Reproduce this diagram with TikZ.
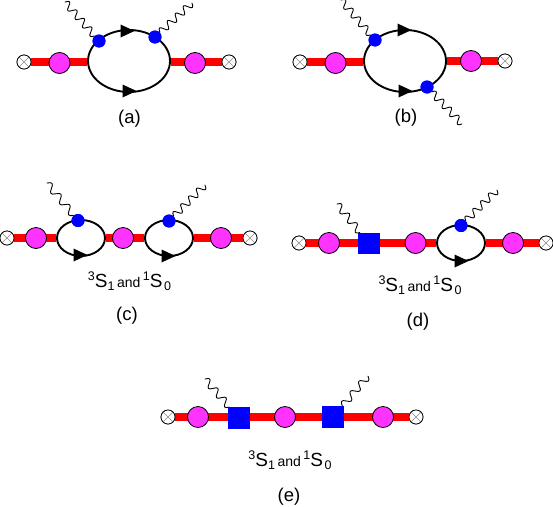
\documentclass[tikz,border=0pt]{standalone}
\usepackage{fontspec}
\setmainfont{Liberation Sans}
\usetikzlibrary{shapes.geometric,decorations}
\pgfdeclaredecoration{sinewave}{init}{
  \state{init}[width=0pt,next state=w,persistent precomputation={%
    \pgfmathsetmacro\wavecount{max(1,round(\pgfdecoratedpathlength/\pgfdecorationsegmentlength))}%
    \pgfmathsetlengthmacro\wavelen{\pgfdecoratedpathlength/\wavecount}}]{}
  \state{w}[switch if less than=.5*\wavelen to final,width=\wavelen]{
    \pgfpathcurveto{\pgfpoint{.18*\wavelen}{1.33*\pgfdecorationsegmentamplitude}}
                   {\pgfpoint{.32*\wavelen}{1.33*\pgfdecorationsegmentamplitude}}
                   {\pgfpoint{.5*\wavelen}{0pt}}
    \pgfpathcurveto{\pgfpoint{.68*\wavelen}{-1.33*\pgfdecorationsegmentamplitude}}
                   {\pgfpoint{.82*\wavelen}{-1.33*\pgfdecorationsegmentamplitude}}
                   {\pgfpoint{\wavelen}{0pt}}
  }
  \state{final}{\pgfpathlineto{\pgfpointdecoratedpathlast}}
}
\definecolor{pinkb}{RGB}{255,51,255}
\definecolor{blueb}{RGB}{0,0,255}
\tikzset{
  prop/.style={draw=red,line width=8.5pt},
  pinkdot/.style={circle,draw=black,fill=pinkb,line width=0.8pt,minimum size=21pt,inner sep=0pt},
  crossdot/.style={circle,draw=black,fill=white,line width=0.7pt,minimum size=14pt,inner sep=0pt,
    path picture={\draw[black!45,line width=0.4pt]
      ([shift={(2,2)}]path picture bounding box.north west)--([shift={(-2,-2)}]path picture bounding box.south east)
      ([shift={(-2,2)}]path picture bounding box.north east)--([shift={(2,-2)}]path picture bounding box.south west);}},
  loopnode/.style={ellipse,draw=black,line width=1.9pt,inner sep=0pt},
  bubble/.style={loopnode,minimum width=82pt,minimum height=62pt},
  smallbubble/.style={loopnode,minimum width=48pt,minimum height=36pt},
  bluedot/.style={circle,fill=blueb,minimum size=13pt,inner sep=0pt},
  bluesq/.style={rectangle,fill=blueb,minimum size=21.5pt,inner sep=0pt},
  photon/.style={draw=black,line width=0.9pt,line join=round,decorate,decoration={sinewave,segment length=12pt,amplitude=3.6pt}},
  caplabel/.style={font=\fontsize{18.5}{20}\selectfont,inner sep=0pt},
  statelabel/.style={inner sep=0pt}
}
\newcommand{\headat}[2]{\fill[black] (#1-6.5,#2-6.5) -- (#1+7.5,#2) -- (#1-6.5,#2+6.5) -- cycle;}
\newcommand{\statetext}{{\fontsize{12.5}{12}\selectfont\raisebox{7pt}{3}}{\fontsize{19}{20}\selectfont S}{\fontsize{12.5}{12}\selectfont\raisebox{-3pt}{1}}\hspace{2.5pt}{\fontsize{14}{14}\selectfont and}\hspace{2.5pt}{\fontsize{12.5}{12}\selectfont\raisebox{7pt}{1}}{\fontsize{19}{20}\selectfont S}\hspace{1.5pt}{\fontsize{12.5}{12}\selectfont\raisebox{-3pt}{0}}}
\begin{document}
\begin{tikzpicture}[x=1pt,y=-1pt]
\useasboundingbox (0,0) rectangle (553,506);
% ---------- (a)
\node[bubble] (aL) at (129,61) {};
\node[crossdot] (aC1) at (24,62) {};
\node[crossdot] (aC2) at (229,62) {};
\draw[prop] (aC1) -- (aL.west |- aC1);
\draw[prop] (aL.east |- aC2) -- (aC2);
\node[crossdot] at (aC1) {};
\node[crossdot] at (aC2) {};
\node[pinkdot] (aP1) at (59.5,63) {};
\node[pinkdot] (aP2) at (195,63) {};
\headat{127}{31}
\headat{129}{91}
\coordinate (aW1) at (65,2);
\coordinate (aW2) at (192,3);
\node[bluedot] (aB1) at (99,41) {};
\node[bluedot] (aB2) at (155,37) {};
\draw[photon] (aB1) -- (aW1);
\draw[photon] (aB2) -- (aW2);
\node[bluedot] at (aB1) {};
\node[bluedot] at (aB2) {};
\node[caplabel] (aT) at (129.5,119) {(a)};
% ---------- (b)
\node[bubble] (bL) at (405,61) {};
\node[crossdot] (bC1) at (300,62) {};
\node[crossdot] (bC2) at (505,61) {};
\draw[prop] (bC1) -- (bL.west |- bC1);
\draw[prop] (bL.east |- bC2) -- (bC2);
\node[crossdot] at (bC1) {};
\node[crossdot] at (bC2) {};
\node[pinkdot] (bP1) at (335.5,63) {};
\node[pinkdot] (bP2) at (471,61) {};
\headat{404}{30}
\headat{405}{91}
\coordinate (bW1) at (341,0);
\coordinate (bW2) at (462,124);
\node[bluedot] (bB1) at (375,40) {};
\node[bluedot] (bB2) at (427,87) {};
\draw[photon] (bB1) -- (bW1);
\draw[photon] (bB2) -- (bW2);
\node[bluedot] at (bB1) {};
\node[bluedot] at (bB2) {};
\node[caplabel] (bT) at (406,118) {(b)};
% ---------- (c)
\node[smallbubble] (cL1) at (81,238) {};
\node[smallbubble] (cL2) at (169,238) {};
\node[crossdot] (cC1) at (7,238) {};
\node[crossdot] (cC2) at (250,238) {};
\draw[prop] (cC1) -- (cL1);
\draw[prop] (cL1) -- (cL2);
\draw[prop] (cL2) -- (cC2);
\node[crossdot] at (cC1) {};
\node[crossdot] at (cC2) {};
\node[pinkdot] (cP1) at (36,238) {};
\node[pinkdot] (cP2) at (123,238) {};
\node[pinkdot] (cP3) at (221,238) {};
\headat{80}{255}
\headat{168}{256}
\coordinate (cW1) at (47,183);
\coordinate (cW2) at (205,185);
\node[bluedot] (cB1) at (78,220.5) {};
\node[bluedot] (cB2) at (169,221) {};
\draw[photon] (cB1) -- (cW1);
\draw[photon] (cB2) -- (cW2);
\node[bluedot] at (cB1) {};
\node[bluedot] at (cB2) {};
\node[statelabel] (cS) at (129.5,281) {\statetext};
\node[caplabel] (cT) at (127,316) {(c)};
% ---------- (d)
\node[smallbubble] (dL) at (461,243) {};
\node[crossdot] (dC1) at (299,243) {};
\node[crossdot] (dC2) at (546,243) {};
\draw[prop] (dC1) -- (dL);
\draw[prop] (dL) -- (dC2);
\node[crossdot] at (dC1) {};
\node[crossdot] at (dC2) {};
\node[pinkdot] (dP1) at (329,243) {};
\node[pinkdot] (dP2) at (415.5,243) {};
\node[pinkdot] (dP3) at (513,243) {};
\headat{461}{261}
\coordinate (dW1) at (337,204);
\coordinate (dW2) at (497,190);
\node[bluesq] (dQ) at (369,243.5) {};
\node[bluedot] (dB) at (461,225.5) {};
\draw[photon] (dQ) -- (dW1);
\draw[photon] (dB) -- (dW2);
\node[bluesq] at (dQ) {};
\node[bluedot] at (dB) {};
\node[statelabel] (dS) at (420,285) {\statetext};
\node[caplabel] (dT) at (418,322) {(d)};
% ---------- (e)
\node[crossdot] (eC1) at (168,417) {};
\node[crossdot] (eC2) at (416,417) {};
\draw[prop] (eC1) -- (eC2);
\node[crossdot] at (eC1) {};
\node[crossdot] at (eC2) {};
\node[pinkdot] (eP1) at (198,417) {};
\node[pinkdot] (eP2) at (285,417) {};
\node[pinkdot] (eP3) at (383,417) {};
\coordinate (eW1) at (205,379);
\coordinate (eW2) at (368,376);
\node[bluesq] (eQ1) at (239,418) {};
\node[bluesq] (eQ2) at (333,417) {};
\draw[photon] (eQ1) -- (eW1);
\draw[photon] (eQ2) -- (eW2);
\node[bluesq] at (eQ1) {};
\node[bluesq] at (eQ2) {};
\node[statelabel] (eS) at (290,460) {\statetext};
\node[caplabel] (eT) at (289,497) {(e)};
\end{tikzpicture}
\end{document}
